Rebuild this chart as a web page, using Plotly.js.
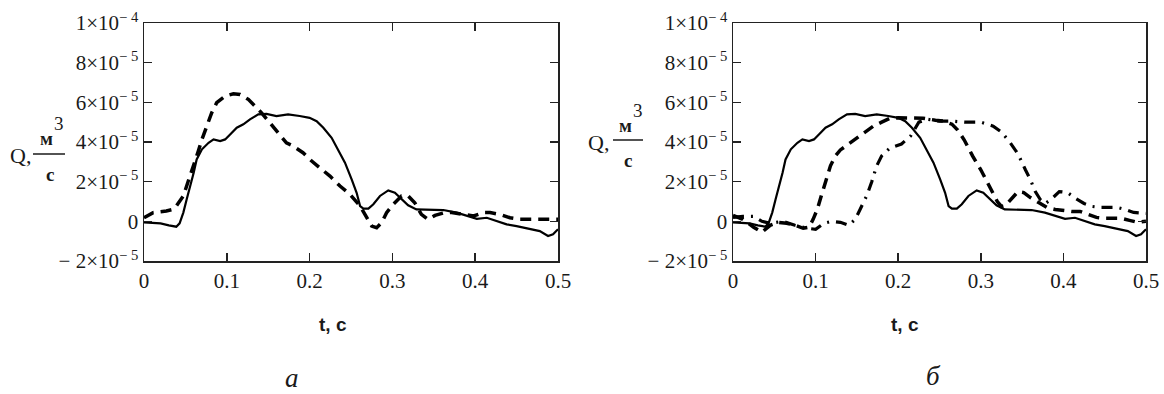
<!DOCTYPE html>
<html>
<head>
<meta charset="utf-8">
<script src="https://cdn.plot.ly/plotly-3.0.1.min.js"></script>
<style>html,body{margin:0;padding:0;background:#fff;}#chart{width:1164px;height:394px;}</style>
</head>
<body>
<div id="chart"></div>
<script>
// values of Q are in units of 1e-5 m^3/s
const Q_UNIT = 1e-5;

const t_solid = [0, 0.01, 0.02, 0.03, 0.039, 0.043, 0.0475, 0.0515, 0.056, 0.06, 0.0636, 0.07, 0.078, 0.084, 0.092, 0.098, 0.104, 0.112, 0.12, 0.128, 0.138, 0.148, 0.16, 0.174, 0.188, 0.2, 0.2085, 0.2166, 0.2266, 0.2347, 0.2427, 0.2508, 0.2568, 0.261, 0.265, 0.271, 0.277, 0.285, 0.295, 0.303, 0.311, 0.319, 0.329, 0.345, 0.3615, 0.3776, 0.39, 0.402, 0.414, 0.426, 0.438, 0.45, 0.466, 0.478, 0.488, 0.494, 0.5];
const q_solid = [-0.05, -0.07, -0.1, -0.2, -0.27, -0.1, 0.44, 1.1, 1.78, 2.45, 3.12, 3.63, 3.96, 4.13, 4.05, 4.13, 4.38, 4.72, 4.89, 5.14, 5.39, 5.42, 5.31, 5.39, 5.31, 5.22, 5.05, 4.72, 4.21, 3.54, 2.96, 2.12, 1.44, 0.77, 0.64, 0.64, 0.86, 1.28, 1.56, 1.44, 1.11, 0.81, 0.6, 0.57, 0.57, 0.44, 0.27, 0.13, 0.18, 0.02, -0.15, -0.24, -0.4, -0.49, -0.74, -0.65, -0.4];

const t_dash_a = [0, 0.011, 0.027, 0.035, 0.039, 0.0475, 0.0535, 0.06, 0.0656, 0.07, 0.0757, 0.0817, 0.0878, 0.098, 0.108, 0.116, 0.126, 0.134, 0.142, 0.152, 0.162, 0.172, 0.18, 0.192, 0.2025, 0.2146, 0.2246, 0.2367, 0.2488, 0.261, 0.267, 0.275, 0.281, 0.287, 0.293, 0.301, 0.311, 0.319, 0.327, 0.335, 0.343, 0.3515, 0.3635, 0.3716, 0.3857, 0.398, 0.41, 0.418, 0.43, 0.442, 0.454, 0.466, 0.478, 0.49, 0.5];
const q_dash_a = [0.18, 0.44, 0.52, 0.6, 0.77, 1.28, 2.03, 2.79, 3.54, 4.13, 4.8, 5.47, 5.98, 6.31, 6.43, 6.4, 6.15, 5.81, 5.47, 4.97, 4.47, 3.96, 3.8, 3.46, 3.04, 2.62, 2.28, 1.78, 1.36, 0.77, 0.35, -0.24, -0.32, -0.07, 0.44, 0.86, 1.28, 1.28, 0.94, 0.35, 0.1, 0.3, 0.44, 0.44, 0.35, 0.27, 0.44, 0.44, 0.35, 0.18, 0.1, 0.1, 0.13, 0.1, 0.1];

const t_dash_b = [0, 0.012, 0.025, 0.035, 0.045, 0.055, 0.065, 0.075, 0.085, 0.092, 0.097, 0.102, 0.107, 0.112, 0.118, 0.124, 0.13, 0.14, 0.15, 0.16, 0.17, 0.18, 0.19, 0.2, 0.215, 0.23, 0.245, 0.255, 0.265, 0.272, 0.28, 0.29, 0.3, 0.308, 0.315, 0.32, 0.325, 0.33, 0.337, 0.345, 0.352, 0.36, 0.37, 0.38, 0.39, 0.4, 0.41, 0.42, 0.43, 0.44, 0.45, 0.46, 0.47, 0.48, 0.49, 0.5];
const q_dash_b = [0.3, 0.1, -0.3, -0.55, -0.2, -0.05, -0.1, -0.2, -0.35, -0.3, 0.1, 0.6, 1.3, 2.0, 2.8, 3.3, 3.6, 3.9, 4.2, 4.5, 4.8, 5.0, 5.2, 5.22, 5.2, 5.2, 5.1, 5.05, 4.9, 4.6, 4.1, 3.3, 2.6, 2.0, 1.4, 1.0, 0.75, 0.8, 1.1, 1.5, 1.45, 1.2, 0.95, 0.7, 0.6, 0.55, 0.5, 0.5, 0.35, 0.2, 0.15, 0.15, 0.15, 0.05, -0.05, 0.0];

const t_dashdot_b = [0, 0.012, 0.025, 0.035, 0.045, 0.06, 0.075, 0.09, 0.1, 0.11, 0.12, 0.13, 0.14, 0.148, 0.155, 0.162, 0.168, 0.174, 0.18, 0.19, 0.204, 0.215, 0.225, 0.235, 0.25, 0.265, 0.28, 0.3, 0.315, 0.325, 0.335, 0.345, 0.354, 0.36, 0.366, 0.372, 0.378, 0.385, 0.395, 0.405, 0.415, 0.425, 0.435, 0.445, 0.455, 0.465, 0.475, 0.485, 0.5];
const q_dashdot_b = [0.2, 0.25, 0.25, 0.0, -0.1, 0.0, -0.2, -0.35, -0.4, -0.1, 0.0, -0.05, -0.2, 0.1, 0.7, 1.3, 2.0, 2.8, 3.3, 3.7, 3.9, 4.3, 5.0, 5.15, 5.05, 5.05, 5.0, 5.0, 4.8, 4.5, 4.0, 3.4, 2.6, 2.1, 1.5, 1.1, 0.9, 1.1, 1.5, 1.45, 1.15, 0.9, 0.75, 0.7, 0.7, 0.7, 0.6, 0.45, 0.4];

const x_tick_vals = [0, 0.1, 0.2, 0.3, 0.4, 0.5];
const x_tick_text = ['0', '0.1', '0.2', '0.3', '0.4', '0.5'];
const y_tick_vals = [-2e-5, 0, 2e-5, 4e-5, 6e-5, 8e-5, 1e-4];
const y_tick_text = ['\u2212 2\u00d710<sup>\u2212 5</sup>', '0', '2\u00d710<sup>\u2212 5</sup>', '4\u00d710<sup>\u2212 5</sup>', '6\u00d710<sup>\u2212 5</sup>', '8\u00d710<sup>\u2212 5</sup>', '1\u00d710<sup>\u2212 4</sup>'];

const toQ = arr => arr.map(v => v * Q_UNIT);

const W = 1164, H = 394;
const px = x => x / W;
const py = y => 1 - y / H;

const ink = '#1a1a1a';
const serif = 'Liberation Serif, Times New Roman, serif';
const sans = 'Liberation Sans, Arial, sans-serif';

const solidLine = {color: '#000', width: 2.2, dash: 'solid'};
const dashLine = {color: '#000', width: 3.5, dash: '11px,7px'};
const dashDotLine = {color: '#000', width: 3.2, dash: '11px,7px,2px,7px'};

const traces = [
  {x: t_solid, y: toQ(q_solid), xaxis: 'x', yaxis: 'y', mode: 'lines', line: solidLine},
  {x: t_dash_a, y: toQ(q_dash_a), xaxis: 'x', yaxis: 'y', mode: 'lines', line: dashLine},
  {x: t_solid, y: toQ(q_solid), xaxis: 'x2', yaxis: 'y2', mode: 'lines', line: solidLine},
  {x: t_dash_b, y: toQ(q_dash_b), xaxis: 'x2', yaxis: 'y2', mode: 'lines', line: dashLine},
  {x: t_dashdot_b, y: toQ(q_dashdot_b), xaxis: 'x2', yaxis: 'y2', mode: 'lines', line: dashDotLine}
];

function xAxis(domain, anchor) {
  return {
    domain: domain, anchor: anchor, range: [0, 0.5],
    tickmode: 'array', tickvals: x_tick_vals, ticktext: x_tick_text,
    ticks: 'inside', ticklen: 8, tickwidth: 1.5, tickcolor: '#222',
    showline: true, linecolor: '#222', linewidth: 1.5, mirror: 'ticks',
    showgrid: false, zeroline: false,
    tickfont: {family: serif, size: 21, color: ink}
  };
}
function yAxis(domain, anchor) {
  return {
    domain: domain, anchor: anchor, range: [-2e-5, 1e-4],
    tickmode: 'array', tickvals: y_tick_vals, ticktext: y_tick_text,
    ticks: 'inside', ticklen: 8, tickwidth: 1.5, tickcolor: '#222',
    showline: true, linecolor: '#222', linewidth: 1.5, mirror: 'ticks',
    showgrid: false, zeroline: false,
    tickfont: {family: serif, size: 21, color: ink}
  };
}

const yDom = [py(261), py(23)];

function ann(text, x, y, size, family) {
  return {text: text, x: px(x), y: py(y), xref: 'paper', yref: 'paper',
    showarrow: false, xanchor: 'center', yanchor: 'middle',
    font: {family: family || serif, size: size, color: ink}};
}

const annotations = [
  // left y title
  ann('Q,', 21, 155, 22),
  ann('<b>м</b>', 46, 138, 19),
  ann('3', 59, 123, 19),
  ann('<b>c</b>', 50, 174, 19),
  // right y title
  ann('Q,', 598, 142, 22),
  ann('<b>м</b>', 625, 125, 19),
  ann('3', 638, 110, 19),
  ann('<b>c</b>', 628, 161, 19),
  // x titles
  ann('<b>t, c</b>', 333, 324, 19, sans),
  ann('<b>t, c</b>', 905, 324, 19, sans),
  // captions
  ann('<i>a</i>', 292, 378, 27),
  ann('<i>б</i>', 933, 376, 27)
];

const shapes = [
  {type: 'line', xref: 'paper', yref: 'paper', x0: px(33), x1: px(65), y0: py(154), y1: py(154), line: {color: ink, width: 1.5}},
  {type: 'line', xref: 'paper', yref: 'paper', x0: px(613), x1: px(643), y0: py(140), y1: py(140), line: {color: ink, width: 1.5}}
];

const layout = {
  width: W, height: H,
  margin: {l: 0, r: 0, t: 0, b: 0},
  paper_bgcolor: '#fff', plot_bgcolor: '#fff',
  showlegend: false,
  xaxis: xAxis([px(144), px(558)], 'y'),
  yaxis: yAxis(yDom, 'x'),
  xaxis2: xAxis([px(733), px(1146)], 'y2'),
  yaxis2: yAxis(yDom, 'x2'),
  annotations: annotations,
  shapes: shapes
};

Plotly.newPlot('chart', traces, layout, {displayModeBar: false, staticPlot: true});
</script>
</body>
</html>
